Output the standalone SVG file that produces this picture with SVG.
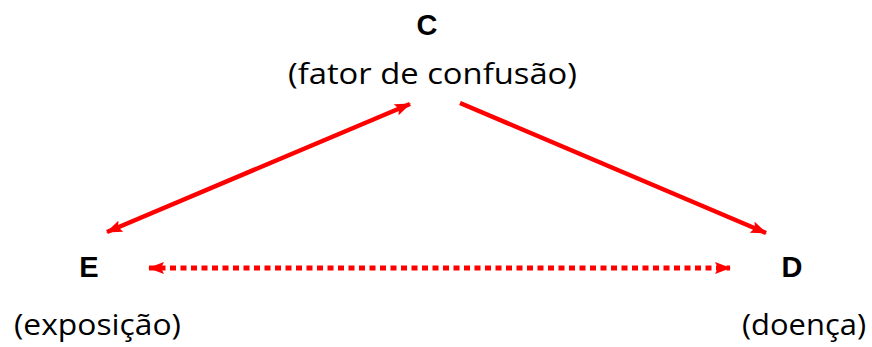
<svg xmlns="http://www.w3.org/2000/svg" width="872" height="347" viewBox="0 0 872 347">
<defs>
<style>
.lbl{font-family:"Liberation Sans",Arial,sans-serif;font-weight:bold;font-size:29px;fill:#000;text-anchor:middle}
.sub{font-family:"Open Sans","DejaVu Sans",sans-serif;font-size:29px;fill:#000}
.con{stroke:#ff0000;stroke-width:4.5;fill:none}
.dot{stroke:#ff0000;stroke-width:5;fill:none;stroke-dasharray:6 4.5}
</style>
<marker id="ah" viewBox="0 0 16 12" refX="15" refY="6" markerWidth="16" markerHeight="12" markerUnits="userSpaceOnUse" orient="auto-start-reverse">
<path d="M0,0 L16,6 L0,12 L3,6 Z" fill="#ff0000"/>
</marker>
</defs>
<rect width="872" height="347" fill="#fff"/>
<g id="node-C">
<text class="lbl" x="427" y="35">C</text>
<text class="sub" x="288" y="84" textLength="289" lengthAdjust="spacingAndGlyphs">(fator de confusão)</text>
</g>
<g id="node-E">
<text class="lbl" x="89" y="277">E</text>
<text class="sub" x="14" y="335" textLength="167" lengthAdjust="spacingAndGlyphs">(exposição)</text>
</g>
<g id="node-D">
<text class="lbl" x="792" y="277">D</text>
<text class="sub" x="742" y="335" textLength="124" lengthAdjust="spacingAndGlyphs">(doença)</text>
</g>
<g id="connectors">
<line class="con" x1="410" y1="104" x2="107" y2="232" marker-start="url(#ah)" marker-end="url(#ah)"/>
<line class="con" x1="460" y1="103" x2="766" y2="233" marker-end="url(#ah)"/>
<line class="dot" x1="149" y1="268" x2="730" y2="268" marker-start="url(#ah)" marker-end="url(#ah)"/>
</g>
</svg>
